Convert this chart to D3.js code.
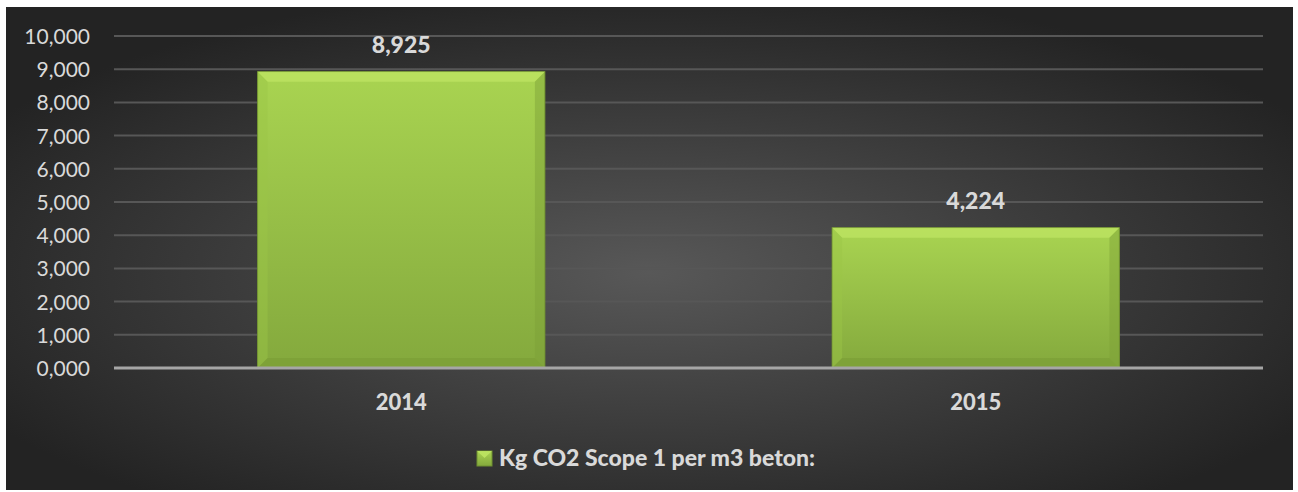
<!DOCTYPE html>
<html>
<head>
<meta charset="utf-8">
<script src="https://cdn.jsdelivr.net/npm/d3@7"></script>
<style>
  body { margin: 0; background: #fff; }
  svg text { font-family: Lato, "Open Sans", sans-serif; }
</style>
</head>
<body>
<svg id="chart"></svg>
<script>
// dati del grafico
var categories = ["2014", "2015"];
var values = [8.925, 4.224];
var valueLabels = ["8,925", "4,224"];
var yTicks = [0, 1, 2, 3, 4, 5, 6, 7, 8, 9, 10];
var seriesName = "Kg CO2 Scope 1 per m3 beton:";

var width = 1298, height = 492;
var margin = {top: 36, right: 35, bottom: 124, left: 114};

var svg = d3.select("#chart").attr("width", width).attr("height", height);
var defs = svg.append("defs");

var bg = defs.append("radialGradient").attr("id", "bg")
  .attr("cx", "50%").attr("cy", "55%").attr("r", "60%");
bg.append("stop").attr("offset", "0%").attr("stop-color", "#585858");
bg.append("stop").attr("offset", "100%").attr("stop-color", "#232323");

var barGrad = defs.append("linearGradient").attr("id", "barGrad")
  .attr("x1", 0).attr("y1", 0).attr("x2", 0).attr("y2", 1);
barGrad.append("stop").attr("offset", "0%").attr("stop-color", "#a9d451");
barGrad.append("stop").attr("offset", "100%").attr("stop-color", "#84a93d");

svg.append("rect")
  .attr("x", 6).attr("y", 7).attr("width", 1287).attr("height", 483)
  .attr("fill", "url(#bg)");

var x = d3.scaleBand().domain(categories)
  .range([margin.left, width - margin.right]).paddingInner(0.5).paddingOuter(0.25);
var y = d3.scaleLinear().domain([0, 10]).range([height - margin.bottom, margin.top]);

// griglia
svg.append("g").selectAll("line")
  .data(yTicks.slice(1))
  .enter().append("line")
  .attr("x1", margin.left).attr("x2", width - margin.right)
  .attr("y1", function(d){ return y(d); }).attr("y2", function(d){ return y(d); })
  .attr("stroke", "#575757").attr("stroke-width", 2);

// asse y
var yAxis = svg.append("g")
  .attr("transform", "translate(" + (margin.left - 24) + ",0)")
  .call(d3.axisLeft(y).tickValues(yTicks).tickSize(0).tickPadding(0));
yAxis.select(".domain").remove();
yAxis.selectAll("text").attr("fill", "#d9d9d9").style("font-size", "21px")
  .attr("dy", "0.36em")
  .text(function(d){ return d + ",000"; });

// barre
var bars = svg.append("g").selectAll("g.bar")
  .data(values)
  .enter().append("g").attr("class", "bar");

bars.append("rect")
  .attr("x", function(d, i){ return x(categories[i]); })
  .attr("y", function(d){ return y(d); })
  .attr("width", x.bandwidth())
  .attr("height", function(d){ return y(0) - y(d); })
  .attr("fill", "url(#barGrad)")
  .attr("stroke", "#6f9030").attr("stroke-width", 1);

var bev = 10;
// smusso in alto
bars.append("path")
  .attr("d", function(d, i){
    var x0 = x(categories[i]), x1 = x0 + x.bandwidth(), t = y(d);
    return "M" + x0 + "," + t + "L" + x1 + "," + t + "L" + (x1 - bev) + "," + (t + bev) +
           "L" + (x0 + bev) + "," + (t + bev) + "Z";
  })
  .attr("fill", "#bde462").attr("opacity", 0.8);
// lati
bars.append("path")
  .attr("d", function(d, i){
    var x0 = x(categories[i]), t = y(d), b = y(0);
    return "M" + x0 + "," + t + "L" + (x0 + bev) + "," + (t + bev) + "L" + (x0 + bev) + "," + (b - bev) +
           "L" + x0 + "," + b + "Z";
  })
  .attr("fill", "#9cc548").attr("opacity", 0.45);
bars.append("path")
  .attr("d", function(d, i){
    var x1 = x(categories[i]) + x.bandwidth(), t = y(d), b = y(0);
    return "M" + x1 + "," + t + "L" + (x1 - bev) + "," + (t + bev) + "L" + (x1 - bev) + "," + (b - bev) +
           "L" + x1 + "," + b + "Z";
  })
  .attr("fill", "#7c9f37").attr("opacity", 0.45);
// smusso in basso
bars.append("path")
  .attr("d", function(d, i){
    var x0 = x(categories[i]), x1 = x0 + x.bandwidth(), b = y(0);
    return "M" + x0 + "," + b + "L" + x1 + "," + b + "L" + (x1 - bev) + "," + (b - bev) +
           "L" + (x0 + bev) + "," + (b - bev) + "Z";
  })
  .attr("fill", "#7a9c35").attr("opacity", 0.6);

// etichette valori
bars.append("text")
  .attr("x", function(d, i){ return x(categories[i]) + x.bandwidth() / 2; })
  .attr("y", function(d){ return y(d) - 19; })
  .attr("text-anchor", "middle")
  .attr("fill", "#d9d9d9").style("font-size", "23px").style("font-weight", "900")
  .text(function(d, i){ return valueLabels[i]; });

// asse x
svg.append("line")
  .attr("x1", margin.left).attr("x2", width - margin.right)
  .attr("y1", y(0)).attr("y2", y(0))
  .attr("stroke", "#a6a6a6").attr("stroke-width", 3);

var xAxis = svg.append("g")
  .attr("transform", "translate(0," + y(0) + ")")
  .call(d3.axisBottom(x).tickSize(0).tickPadding(0));
xAxis.select(".domain").remove();
xAxis.selectAll("text").attr("fill", "#d9d9d9").style("font-size", "22px")
  .style("font-weight", "900").attr("y", 42).attr("dy", 0);

// legenda
var legend = svg.append("g").attr("transform", "translate(477,451)");
legend.append("rect").attr("width", 15).attr("height", 15)
  .attr("fill", "url(#barGrad)").attr("stroke", "#6f9030");
legend.append("path").attr("d", "M0,0L15,0L7.5,7Z").attr("fill", "#bde462").attr("opacity", 0.9);
legend.append("text").attr("x", 22).attr("y", 15)
  .attr("fill", "#d9d9d9").style("font-size", "23px").style("font-weight", "900")
  .text(seriesName);
</script>
</body>
</html>
